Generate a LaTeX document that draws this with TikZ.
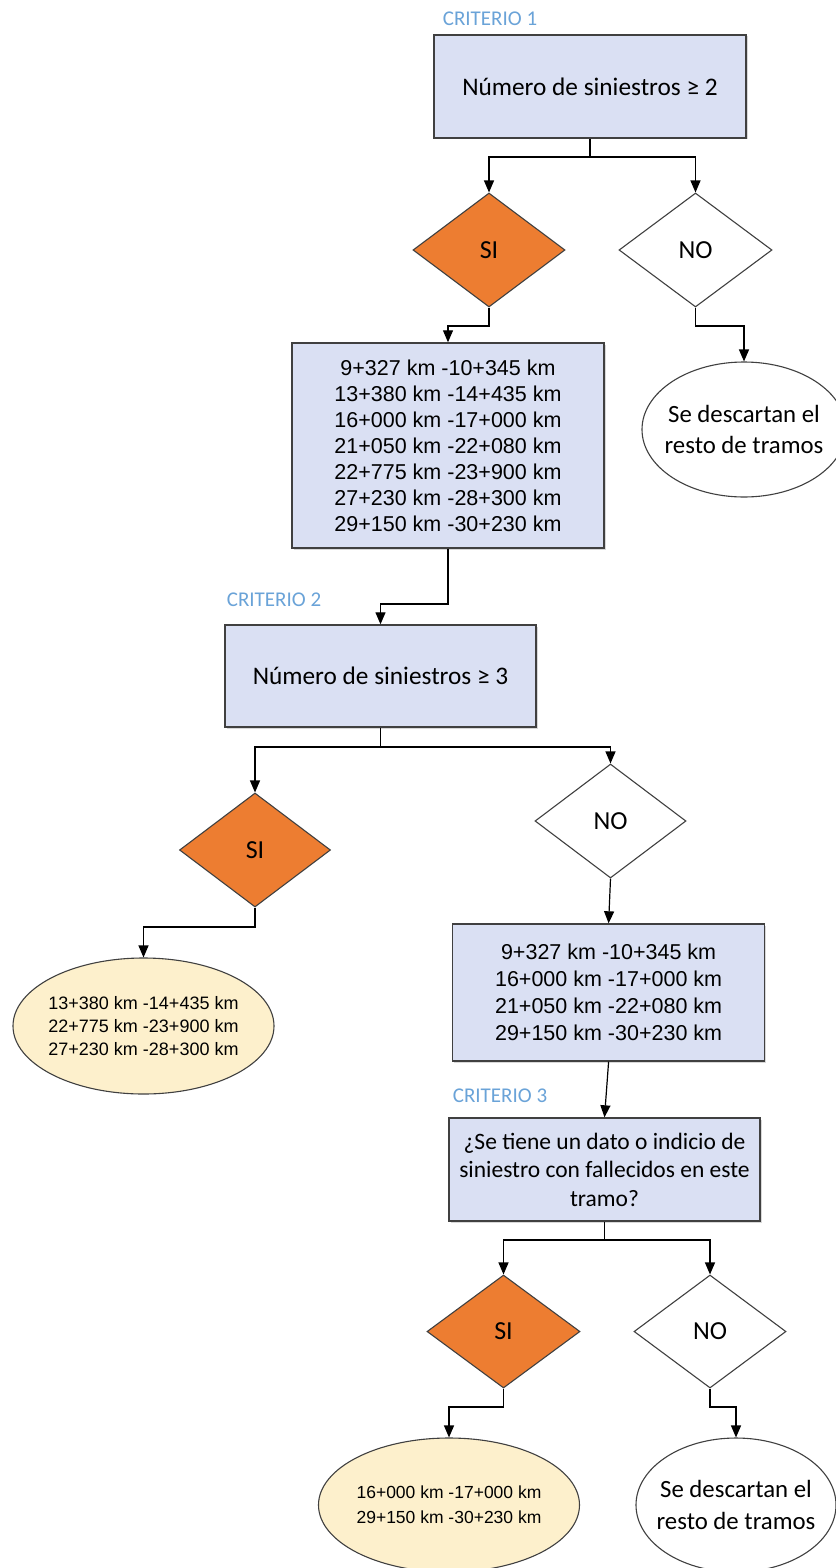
\documentclass[tikz,border=0pt]{standalone}
\usepackage{fontspec}
\setmainfont{Carlito}
\newfontfamily\arialf{Liberation Sans}
\usetikzlibrary{shapes.geometric,arrows.meta,shadows}
\definecolor{boxfill}{HTML}{DAE0F3}
\definecolor{siorange}{HTML}{ED7D31}
\definecolor{ellfill}{HTML}{FDF0CC}
\definecolor{critblue}{HTML}{6AA3D8}
\definecolor{edgegray}{HTML}{404040}
\begin{document}
\begin{tikzpicture}[x=1pt,y=-1pt,
 box/.style={rectangle, draw=edgegray, line width=1.4pt, fill=boxfill, inner sep=0pt, align=center,
   drop shadow={shadow xshift=1.5pt, shadow yshift=-1.5pt, opacity=0.3}},
 dia/.style={diamond, draw=edgegray, line width=1.1pt, inner sep=0pt, font=\fontsize{26}{30}\selectfont},
 siD/.style={dia, fill=siorange},
 noD/.style={dia, fill=white},
 ell/.style={ellipse, draw=edgegray, line width=1.1pt, inner sep=0pt},
 crit/.style={text=critblue, font=\fontsize{21}{24}\selectfont, inner sep=0pt},
 arr/.style={draw=black, line width=1.2pt, -{Triangle[length=12pt,width=10pt]}},
 cal/.style={font=\fontsize{25.3}{30}\selectfont},
 lbl/.style={align=center, inner sep=0pt},
]
\fill[white] (0,0) rectangle (835,1568);
\useasboundingbox (0,0) rectangle (835,1568);

% labels
\node[crit] (c1) at (490,18.5) {CRITERIO 1};
\node[crit] (c2) at (274,600) {CRITERIO 2};
\node[crit] (c3) at (500,1096) {CRITERIO 3};

% criterio 1
\node[box, cal, minimum width=312pt, minimum height=103pt] (b1) at (590,86.5) {Número de siniestros ≥ 2};
\node[siD, minimum width=152pt, minimum height=114pt] (si1) at (489,250) {SI};
\node[noD, minimum width=153pt, minimum height=114pt] (no1) at (695.5,250) {NO};
\node[box, minimum width=312pt, minimum height=205pt, font=\arialf\fontsize{21.5}{26}\selectfont] (b2) at (448,445.5)
 {9+327 km -10+345 km\\13+380 km -14+435 km\\16+000 km -17+000 km\\21+050 km -22+080 km\\22+775 km -23+900 km\\27+230 km -28+300 km\\29+150 km -30+230 km};
\node[ell, fill=white, minimum width=204pt, minimum height=135pt,
  label={[name=e1t, lbl, font=\fontsize{24.8}{31}\selectfont]center:{Se descartan el\\resto de tramos}}] (e1) at (744,429.5) {};

% criterio 2
\node[box, cal, minimum width=311pt, minimum height=102pt] (b3) at (380.5,676) {Número de siniestros ≥ 3};
\node[siD, minimum width=151pt, minimum height=114pt] (si2) at (255,850) {SI};
\node[noD, minimum width=151pt, minimum height=114pt] (no2) at (610.5,821) {NO};
\node[ell, fill=ellfill, minimum width=261pt, minimum height=136pt,
  label={[name=e2t, lbl, font=\arialf\fontsize{18}{23}\selectfont]center:{13+380 km -14+435 km\\22+775 km -23+900 km\\27+230 km -28+300 km}}] (e2) at (143.5,1026) {};
\node[box, minimum width=312pt, minimum height=137pt, font=\arialf\fontsize{21.5}{27}\selectfont] (b4) at (608.6,992.5)
 {9+327 km -10+345 km\\16+000 km -17+000 km\\21+050 km -22+080 km\\29+150 km -30+230 km};

% criterio 3
\node[box, minimum width=311pt, minimum height=103pt, font=\fontsize{23.5}{28.5}\selectfont] (b5) at (604.5,1169.5)
 {¿Se tiene un dato o indicio de\\siniestro con fallecidos en este\\tramo?};
\node[siD, minimum width=153pt, minimum height=113pt] (si3) at (503.5,1331.5) {SI};
\node[noD, minimum width=152pt, minimum height=113pt] (no3) at (710,1331.5) {NO};
\node[ell, fill=ellfill, minimum width=261pt, minimum height=134pt,
  label={[name=e3t, lbl, font=\arialf\fontsize{17.5}{25}\selectfont]center:{16+000 km -17+000 km\\29+150 km -30+230 km}}] (e3) at (449,1505) {};
\node[ell, fill=white, minimum width=200pt, minimum height=134pt,
  label={[name=e4t, lbl, font=\fontsize{24.8}{32}\selectfont]center:{Se descartan el\\resto de tramos}}] (e4) at (736,1505) {};

% junction levels
\coordinate (y1) at (0,157);
\coordinate (y2) at (0,326);
\coordinate (y3) at (0,604);
\coordinate (y4) at (0,747);
\coordinate (y5) at (0,927);
\coordinate (y6) at (0,1240);
\coordinate (y7) at (0,1407);

% connectors
\draw[arr] (b1.south) -- (b1.south |- y1) -| (si1.north);
\draw[arr] (b1.south |- y1) -| (no1.north);
\draw[arr] (si1.south) -- (si1.south |- y2) -| (b2.north);
\draw[arr] (no1.south) -- (no1.south |- y2) -| (e1.north);
\draw[arr] (b2.south) -- (b2.south |- y3) -| (b3.north);
\draw[arr] (b3.south) -- (b3.south |- y4) -| (si2.north);
\draw[arr] (b3.south |- y4) -| (no2.north);
\draw[arr] (si2.south) -- (si2.south |- y5) -| (e2.north);
\draw[arr] (no2.south) -- (b4.north);
\draw[arr] (b4.south) -- (b5.north);
\draw[arr] (b5.south) -- (b5.south |- y6) -| (si3.north);
\draw[arr] (b5.south |- y6) -| (no3.north);
\draw[arr] (si3.south) -- (si3.south |- y7) -| (e3.north);
\draw[arr] (no3.south) -- (no3.south |- y7) -| (e4.north);
\end{tikzpicture}
\end{document}
